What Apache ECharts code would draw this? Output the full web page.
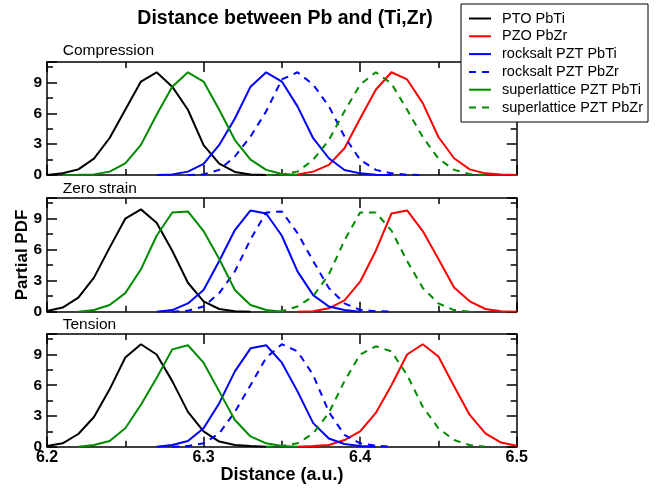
<!DOCTYPE html>
<html><head><meta charset="utf-8">
<script src="https://cdn.jsdelivr.net/npm/echarts@6/dist/echarts.min.js"></script>
<style>html,body{margin:0;padding:0;background:#fff}#c{width:665px;height:492px}</style>
</head><body><div id="c"></div>
<script>
const n = null;
const distance = [6.20,6.21,6.22,6.23,6.24,6.25,6.26,6.27,6.28,6.29,6.30,6.31,6.32,6.33,6.34,6.35,6.36,6.37,6.38,6.39,6.40,6.41,6.42,6.43,6.44,6.45,6.46,6.47,6.48,6.49,6.50];
const panelNames = ['Compression','Zero strain','Tension'];
const seriesNames = ['PTO PbTi','PZO PbZr','rocksalt PZT PbTi','rocksalt PZT PbZr','superlattice PZT PbTi','superlattice PZT PbZr'];
const xTickLabels = ['6.2','6.3','6.4','6.5'];
const yTickLabels = ['0','3','6','9'];

// Compression
const compPTO  = [0,0.17,0.55,1.6,3.6,6.35,9.1,10.0,8.6,6.35,2.9,1.1,0.3,0.05,0,n,n,n,n,n,n,n,n,n,n,n,n,n,n,n,n];
const compPZO  = [n,n,n,n,n,n,n,n,n,n,n,n,n,n,n,0,0.06,0.33,0.98,2.6,5.5,8.3,10.0,9.3,7.0,3.7,1.63,0.55,0.16,0.06,0];
const compRsTi = [n,n,n,n,n,n,n,0,0.06,0.33,1.08,2.93,5.5,8.6,10.0,9.1,6.68,3.58,1.63,0.49,0.16,0.03,0,n,n,n,n,n,n,n,n];
const compRsZr = [n,n,n,n,n,n,n,n,n,0,0.07,0.5,1.8,3.75,6.2,9.3,10.0,8.8,6.7,3.75,1.47,0.5,0.16,0.03,0,n,n,n,n,n,n];
const compSlTi = [n,0,0.02,0.06,0.33,1.14,2.93,5.86,8.6,10.0,9.1,6.35,3.4,1.5,0.5,0.1,0,n,n,n,n,n,n,n,n,n,n,n,n,n,n];
const compSlZr = [n,n,n,n,n,n,n,n,n,n,n,n,n,n,0,0.06,0.33,1.47,3.4,6.2,8.8,10.0,8.9,6.35,3.7,1.6,0.5,0.1,0,n,n];
// Zero strain
const zeroPTO  = [0.07,0.4,1.37,3.3,6.2,9.0,9.9,8.6,5.9,2.8,1.0,0.26,0.05,0,n,n,n,n,n,n,n,n,n,n,n,n,n,n,n,n,n];
const zeroPZO  = [n,n,n,n,n,n,n,n,n,n,n,n,n,n,n,n,0,0.05,0.33,1.1,2.9,5.9,9.5,9.8,7.8,5.1,2.35,1.0,0.26,0.05,0];
const zeroRsTi = [n,n,n,n,n,n,n,0,0.16,0.8,2.1,4.9,7.9,9.8,9.5,7.35,3.9,1.6,0.5,0.16,0,n,n,n,n,n,n,n,n,n,n];
const zeroRsZr = [n,n,n,n,n,n,n,n,0,0.1,0.5,1.8,3.9,7.0,9.6,9.7,7.6,4.9,2.3,0.8,0.18,0.05,0,n,n,n,n,n,n,n,n];
const zeroSlTi = [n,n,0,0.16,0.65,1.8,4.1,7.35,9.6,9.7,7.8,5.1,2.1,0.65,0.16,0,n,n,n,n,n,n,n,n,n,n,n,n,n,n,n];
const zeroSlZr = [n,n,n,n,n,n,n,n,n,n,n,n,n,n,0,0.05,0.5,1.5,3.6,6.9,9.6,9.6,7.85,4.9,2.3,0.8,0.16,0,n,n,n];
// Tension
const tensPTO  = [0.07,0.33,1.24,2.9,5.6,8.7,10.0,9.0,6.4,3.4,1.5,0.5,0.16,0.07,0,n,n,n,n,n,n,n,n,n,n,n,n,n,n,n,n];
const tensPZO  = [n,n,n,n,n,n,n,n,n,n,n,n,n,n,n,n,0,0.07,0.16,0.65,1.5,3.3,6.0,9.0,10.0,8.8,5.9,3.1,1.3,0.4,0.1];
const tensRsTi = [n,n,n,n,n,n,n,0,0.16,0.55,1.8,4.25,7.35,9.6,9.9,8.2,5.4,2.3,0.8,0.26,0.07,0,n,n,n,n,n,n,n,n,n];
const tensRsZr = [n,n,n,n,n,n,n,n,0,0.07,0.33,1.3,3.4,6.0,8.7,10.0,9.3,7.0,3.4,1.15,0.33,0.1,0,n,n,n,n,n,n,n,n];
const tensSlTi = [n,n,0,0.16,0.55,1.8,4.1,6.7,9.5,9.9,8.2,5.4,2.6,1.0,0.33,0.07,0,n,n,n,n,n,n,n,n,n,n,n,n,n,n];
const tensSlZr = [n,n,n,n,n,n,n,n,n,n,n,n,n,n,0,0.07,0.33,1.3,3.3,6.4,9.0,9.8,9.3,7.0,3.9,1.8,0.65,0.16,0,n,n];

const panels = [
  [compPTO, compPZO, compRsTi, compRsZr, compSlTi, compSlZr],
  [zeroPTO, zeroPZO, zeroRsTi, zeroRsZr, zeroSlTi, zeroSlZr],
  [tensPTO, tensPZO, tensRsTi, tensRsZr, tensSlTi, tensSlZr]
];

const colors = ['#000000','#ff0000','#0000ff','#0000ff','#008b00','#008b00'];
const dashedFlags = [false,false,false,true,false,true];
const FONT = '"Liberation Sans", Arial, Helvetica, sans-serif';
const gridTops = [62, 198, 334];
const gridHeights = [113, 113.7, 112.7];
const panelLabelY = [50.8, 189, 324.5];

const lineCol = '#000';
const grids = [], xAxes = [], yAxes = [], series = [];
panels.forEach((p, g) => {
  grids.push({left: 47, right: 148.3, top: gridTops[g], height: gridHeights[g], containLabel: false});
  ['bottom','top'].forEach(pos => {
    xAxes.push({
      type: 'value', gridIndex: g, position: pos, min: 6.2, max: 6.5, interval: 0.1,
      axisLine: {show: true, onZero: false, lineStyle: {color: lineCol, width: 1.5}},
      axisTick: {show: true, inside: true, length: 10, lineStyle: {color: lineCol, width: 1.5}},
      minorTick: {show: true, splitNumber: 2, length: 6, lineStyle: {color: lineCol, width: 1.5}},
      splitLine: {show: false}, minorSplitLine: {show: false},
      axisLabel: {
        show: g === 2 && pos === 'bottom', margin: 3, fontFamily: FONT, fontWeight: 'bold', fontSize: 16, color: '#000',
        formatter: v => { const s = Number(v).toFixed(1); return xTickLabels.includes(s) ? s : ''; }
      }
    });
  });
  ['left','right'].forEach(pos => {
    yAxes.push({
      type: 'value', gridIndex: g, position: pos, min: 0, max: 11, interval: 3,
      axisLine: {show: true, onZero: false, lineStyle: {color: lineCol, width: 1.5}},
      axisTick: {show: true, inside: true, length: 10, lineStyle: {color: lineCol, width: 1.5}},
      minorTick: {show: true, splitNumber: 2, length: 6, lineStyle: {color: lineCol, width: 1.5}},
      splitLine: {show: false}, minorSplitLine: {show: false},
      axisLabel: {
        show: pos === 'left', margin: 5, fontFamily: FONT, fontWeight: 'bold', fontSize: 15.5, color: '#000',
        formatter: v => { const s = String(v); return yTickLabels.includes(s) ? s : ''; }
      }
    });
  });
  p.forEach((vals, k) => {
    series.push({
      type: 'line', name: seriesNames[k], xAxisIndex: 2 * g, yAxisIndex: 2 * g,
      data: distance.map((d, i) => vals[i] === null ? null : [d, vals[i]]).filter(v => v !== null),
      symbol: 'none', showSymbol: false, clip: true, z: 3,
      lineStyle: {color: colors[k], width: 2, type: dashedFlags[k] ? [7, 6] : 'solid'},
      itemStyle: {color: colors[k]},
      emphasis: {disabled: true}
    });
  });
});

const graphics = [
  {type: 'text', x: 137.3, y: 19, style: {text: 'Distance between Pb and (Ti,Zr)', font: 'bold 19.5px ' + FONT, fill: '#000', verticalAlign: 'middle', align: 'left'}},
  {type: 'text', x: 22.5, y: 255, rotation: Math.PI / 2, style: {text: 'Partial PDF', font: 'bold 17px ' + FONT, fill: '#000', verticalAlign: 'middle', align: 'center'}},
  {type: 'text', x: 282, y: 475.5, style: {text: 'Distance (a.u.)', font: 'bold 18px ' + FONT, fill: '#000', verticalAlign: 'middle', align: 'center'}}
];
panelNames.forEach((nm, g) => {
  graphics.push({type: 'text', x: 62.7, y: panelLabelY[g], style: {text: nm, font: '15.5px ' + FONT, fill: '#000', verticalAlign: 'middle', align: 'left'}});
});

const chart = echarts.init(document.getElementById('c'), null, {renderer: 'canvas'});
chart.setOption({
  animation: false,
  backgroundColor: '#fff',
  grid: grids,
  xAxis: xAxes,
  yAxis: yAxes,
  series: series,
  legend: {
    data: seriesNames, orient: 'vertical', left: 461, top: 4,
    padding: [7, 5, 7, 7], itemWidth: 22, itemHeight: 14, itemGap: 2.8,
    backgroundColor: '#fff', borderColor: '#000', borderWidth: 1, borderRadius: 0,
    selectedMode: false, z: 10,
    itemStyle: {opacity: 0},
    textStyle: {fontFamily: FONT, fontSize: 14.5, color: '#000', padding: [0, 0, 0, 6]}
  },
  graphic: graphics
});
</script></body></html>
